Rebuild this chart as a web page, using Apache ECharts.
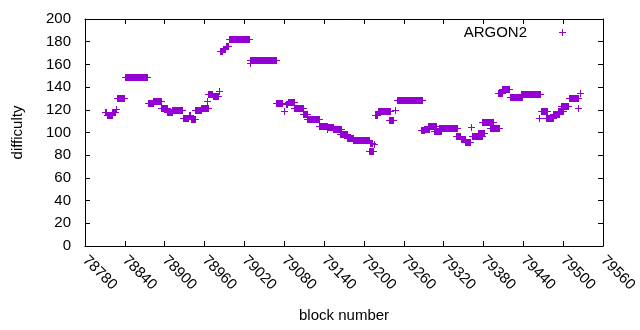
<!DOCTYPE html>
<html>
<head>
<meta charset="utf-8">
<script src="https://cdn.jsdelivr.net/npm/echarts@6/dist/echarts.min.js"></script>
<style>
html, body { margin: 0; padding: 0; background: #fff; }
#main { width: 640px; height: 330px; }
</style>
</head>
<body>
<div id="main"></div>
<script>
// runs of consecutive blocks with the same difficulty (first block, last block, value)
var runStart = [78810, 78813, 78821, 78826, 78828, 78840, 78875, 78883, 78894, 78903,
	78911, 78927, 78936, 78939, 78945, 78954, 78963, 78965, 78972, 78982,
	78983, 78988, 78992, 78997, 79028, 79029, 79068, 79079, 79083, 79086,
	79095, 79108, 79114, 79132, 79145, 79146, 79154, 79164, 79174, 79184,
	79207, 79209, 79215, 79216, 79221, 79237, 79247, 79249, 79286, 79291,
	79296, 79306, 79313, 79325, 79338, 79346, 79352, 79361, 79362, 79372,
	79378, 79390, 79402, 79408, 79420, 79436, 79464, 79466, 79474, 79484,
	79492, 79497, 79508, 79522, 79525];
var runEnd = [78812, 78820, 78825, 78827, 78838, 78874, 78883, 78895, 78904, 78911,
	78926, 78935, 78938, 78946, 78955, 78965, 78963, 78971, 78980, 78982,
	78987, 78991, 78996, 79027, 79028, 79068, 79077, 79080, 79084, 79095,
	79108, 79114, 79133, 79144, 79145, 79153, 79165, 79175, 79184, 79208,
	79214, 79212, 79215, 79220, 79239, 79244, 79247, 79287, 79290, 79298,
	79308, 79316, 79325, 79340, 79345, 79352, 79360, 79361, 79377, 79380,
	79394, 79404, 79408, 79419, 79438, 79465, 79464, 79476, 79484, 79494,
	79500, 79507, 79522, 79522, 79525];
var difficulty = [118, 115, 118, 121, 130, 149, 126, 128, 122, 118,
	120, 113, 115, 112, 120, 122, 128, 134, 132, 137,
	172, 174, 176, 182, 161, 164, 126, 119, 125, 127,
	122, 116, 112, 106, 103, 105, 103, 99, 95, 93,
	84, 91, 90, 115, 119, 111, 120, 129, 102, 103,
	106, 101, 104, 104, 97, 94, 92, 105, 97, 100,
	109, 104, 135, 138, 131, 134, 113, 119, 113, 116,
	119, 123, 130, 122, 135];

var seriesName = 'ARGON2';
var xMin = 78780, xMax = 79560, xStep = 60;
var yMin = 0, yMax = 200, yStep = 20;

var color = '#9400d3';
var font = 'Liberation Sans, Arial, sans-serif';

var runs = runStart.map(function (s, i) {
	return [s, runEnd[i], difficulty[i]];
});

// each block is drawn as a gnuplot style "+" ; consecutive ones merge into a bar
function renderRun(params, api) {
	var a = api.coord([api.value(0), api.value(2)]);
	var b = api.coord([api.value(1), api.value(2)]);
	var x1 = Math.round(a[0]), x2 = Math.round(b[0]), y = Math.round(a[1]);
	return {
		type: 'group',
		children: [
			{ type: 'rect', shape: { x: x1, y: y - 3, width: x2 - x1 + 1, height: 7 }, style: { fill: color } },
			{ type: 'rect', shape: { x: x1 - 3, y: y, width: x2 - x1 + 7, height: 1 }, style: { fill: color } }
		]
	};
}

var tickStyle = { inside: true, length: 5, lineStyle: { color: '#000', width: 1 } };
var lineStyle = { show: true, onZero: false, lineStyle: { color: '#000', width: 1 } };

var chartDom = document.getElementById('main');
var myChart = echarts.init(chartDom);
var option = {
	animation: false,
	backgroundColor: '#fff',
	grid: {
		left: 85,
		right: 28,
		top: 19,
		bottom: 84
	},
	legend: {
		right: 69,
		top: 20,
		align: 'right',
		itemWidth: 7,
		itemHeight: 7,
		textStyle: { fontFamily: font, fontSize: 15, color: '#000', padding: [0, 27, 0, 0] },
		data: [{ name: seriesName, icon: 'path://M3,0h1v3h3v1h-3v3h-1v-3h-3v-1h3z' }]
	},
	xAxis: [{
		type: 'value',
		min: xMin,
		max: xMax,
		interval: xStep,
		name: 'block number',
		nameLocation: 'middle',
		nameGap: 62,
		nameTextStyle: { fontFamily: font, fontSize: 15, color: '#000' },
		axisLine: lineStyle,
		axisTick: tickStyle,
		splitLine: { show: false },
		axisLabel: {
			rotate: -45,
			margin: 12,
			fontFamily: font,
			fontSize: 15,
			color: '#000',
			formatter: function (v) { return String(v); }
		}
	}, {
		type: 'value',
		position: 'top',
		min: xMin,
		max: xMax,
		interval: xStep,
		axisLine: lineStyle,
		axisTick: tickStyle,
		splitLine: { show: false },
		axisLabel: { show: false }
	}],
	yAxis: [{
		type: 'value',
		min: yMin,
		max: yMax,
		interval: yStep,
		name: 'difficulty',
		nameLocation: 'middle',
		nameGap: 60,
		nameTextStyle: { fontFamily: font, fontSize: 15, color: '#000' },
		axisLine: lineStyle,
		axisTick: tickStyle,
		splitLine: { show: false },
		axisLabel: { margin: 14, fontFamily: font, fontSize: 15, color: '#000' }
	}, {
		type: 'value',
		position: 'right',
		min: yMin,
		max: yMax,
		interval: yStep,
		axisLine: lineStyle,
		axisTick: tickStyle,
		splitLine: { show: false },
		axisLabel: { show: false }
	}],
	series: [{
		name: seriesName,
		type: 'custom',
		itemStyle: { color: color },
		renderItem: renderRun,
		encode: { x: [0, 1], y: 2 },
		data: runs
	}]
};
option && myChart.setOption(option);
</script>
</body>
</html>
